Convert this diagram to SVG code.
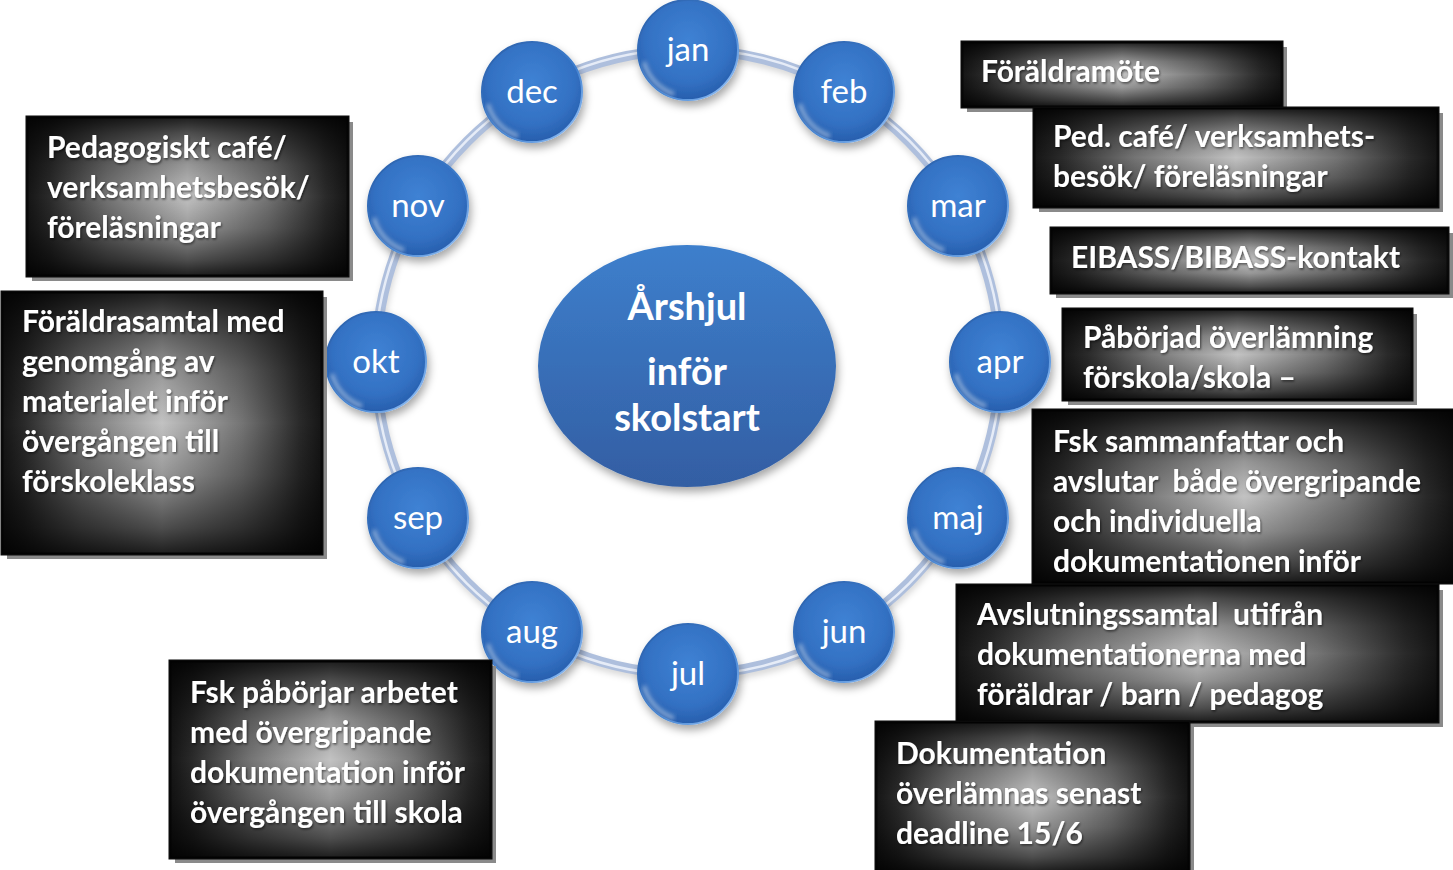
<svg xmlns="http://www.w3.org/2000/svg" width="1453" height="870" viewBox="0 0 1453 870">
<defs>
  <linearGradient id="boxh" x1="0" y1="0" x2="1" y2="0">
    <stop offset="0" stop-color="#151515"/>
    <stop offset="0.07" stop-color="#2a2a2a"/>
    <stop offset="0.25" stop-color="#747474"/>
    <stop offset="0.5" stop-color="#c2c2c2"/>
    <stop offset="0.75" stop-color="#747474"/>
    <stop offset="0.93" stop-color="#2a2a2a"/>
    <stop offset="1" stop-color="#151515"/>
  </linearGradient>
  <linearGradient id="boxv" x1="0" y1="0" x2="0" y2="1">
    <stop offset="0" stop-color="#000" stop-opacity="0.85"/>
    <stop offset="0.1" stop-color="#000" stop-opacity="0.6"/>
    <stop offset="0.3" stop-color="#000" stop-opacity="0.22"/>
    <stop offset="0.5" stop-color="#000" stop-opacity="0"/>
    <stop offset="0.7" stop-color="#000" stop-opacity="0.22"/>
    <stop offset="0.9" stop-color="#000" stop-opacity="0.6"/>
    <stop offset="1" stop-color="#000" stop-opacity="0.85"/>
  </linearGradient>
  <radialGradient id="sphere" cx="0.5" cy="0.4" r="0.7">
    <stop offset="0" stop-color="#3f82d4"/>
    <stop offset="0.6" stop-color="#3371c3"/>
    <stop offset="0.9" stop-color="#255ba9"/>
    <stop offset="1" stop-color="#1f4f96"/>
  </radialGradient>
  <linearGradient id="rim" x1="0" y1="0" x2="1" y2="1">
    <stop offset="0" stop-color="#2a5ea8"/>
    <stop offset="0.6" stop-color="#3e7fcf"/>
    <stop offset="1" stop-color="#a8d0ff"/>
  </linearGradient>
  <linearGradient id="ellg" x1="0" y1="0" x2="0" y2="1">
    <stop offset="0" stop-color="#3d7fcc"/>
    <stop offset="1" stop-color="#335ea3"/>
  </linearGradient>
  <filter id="sh" x="-30%" y="-30%" width="160%" height="160%">
    <feDropShadow dx="2" dy="5" stdDeviation="4" flood-color="#000" flood-opacity="0.35"/>
  </filter>
  <filter id="ts" x="-5%" y="-20%" width="110%" height="140%">
    <feDropShadow dx="1" dy="1.5" stdDeviation="1" flood-color="#000" flood-opacity="0.55"/>
  </filter>
  <filter id="blur3"><feGaussianBlur stdDeviation="3"/></filter>
  <filter id="blur2"><feGaussianBlur stdDeviation="2"/></filter>
  <symbol id="month" overflow="visible">
    <circle r="50" fill="url(#sphere)" stroke="url(#rim)" stroke-width="2" filter="url(#sh)"/>
    <path d="M -44 12 A 46 46 0 0 0 -14 44" fill="none" stroke="#fff" stroke-width="4" stroke-opacity="0.45" filter="url(#blur2)"/>
  </symbol>
  <style>
    .box{fill:url(#boxh);stroke:#0a0a0a;stroke-width:3}
    .boxo{fill:url(#boxv)}
    .bsh{fill:#8a8a8a}
    .bt{font-family:Lato,"Open Sans","DejaVu Sans",sans-serif;font-weight:700;font-size:30px;fill:#fff;filter:url(#ts)}
    .mt{font-family:Lato,"Open Sans","DejaVu Sans",sans-serif;font-size:33px;fill:#fff;text-anchor:middle}
    .ct{font-family:Lato,"Open Sans","DejaVu Sans",sans-serif;font-weight:700;font-size:38px;fill:#fff;text-anchor:middle}
  </style>
</defs>
<rect width="1453" height="870" fill="#fff"/>

<g id="connectors">
  <circle cx="688" cy="362" r="312" fill="none" stroke="#000" stroke-opacity="0.15" stroke-width="10" transform="translate(1,4)" filter="url(#blur3)"/>
  <circle cx="688" cy="362" r="312" fill="none" stroke="#aebfdd" stroke-width="10"/>
  <circle cx="688" cy="362" r="313" fill="none" stroke="#e6ecf7" stroke-width="2.5"/>
</g>

<g id="center">
  <ellipse cx="687" cy="366" rx="149" ry="121" fill="url(#ellg)" filter="url(#sh)"/>
  <text class="ct" x="687" y="320">Årshjul</text>
  <text class="ct" x="687" y="385">inför</text>
  <text class="ct" x="687" y="431">skolstart</text>
</g>

<g id="months">
  <g id="m-jan" transform="translate(688,50)"><use href="#month"/><text class="mt" y="11">jan</text></g>
  <g id="m-feb" transform="translate(844,92)"><use href="#month"/><text class="mt" y="11">feb</text></g>
  <g id="m-mar" transform="translate(958,206)"><use href="#month"/><text class="mt" y="11">mar</text></g>
  <g id="m-apr" transform="translate(1000,362)"><use href="#month"/><text class="mt" y="11">apr</text></g>
  <g id="m-maj" transform="translate(958,518)"><use href="#month"/><text class="mt" y="11">maj</text></g>
  <g id="m-jun" transform="translate(844,632)"><use href="#month"/><text class="mt" y="11">jun</text></g>
  <g id="m-jul" transform="translate(688,674)"><use href="#month"/><text class="mt" y="11">jul</text></g>
  <g id="m-aug" transform="translate(532,632)"><use href="#month"/><text class="mt" y="11">aug</text></g>
  <g id="m-sep" transform="translate(418,518)"><use href="#month"/><text class="mt" y="11">sep</text></g>
  <g id="m-okt" transform="translate(376,362)"><use href="#month"/><text class="mt" y="11">okt</text></g>
  <g id="m-nov" transform="translate(418,206)"><use href="#month"/><text class="mt" y="11">nov</text></g>
  <g id="m-dec" transform="translate(532,92)"><use href="#month"/><text class="mt" y="11">dec</text></g>
</g>

<g id="box-foraldramote">
  <rect class="bsh" x="967" y="47" width="320" height="65"/>
  <rect class="box" x="962" y="42" width="320" height="65"/>
  <rect class="boxo" x="962" y="42" width="320" height="65"/>
  <text class="bt" x="981" y="82">Föräldramöte</text>
</g>
<g id="box-pedcafe-r">
  <rect class="bsh" x="1039" y="113" width="404" height="99"/>
  <rect class="box" x="1034" y="108" width="404" height="99"/>
  <rect class="boxo" x="1034" y="108" width="404" height="99"/>
  <text class="bt" x="1053" y="147">Ped. café/ verksamhets-</text>
  <text class="bt" x="1053" y="187">besök/ föreläsningar</text>
</g>
<g id="box-eibass">
  <rect class="bsh" x="1056" y="233" width="397" height="65"/>
  <rect class="box" x="1051" y="228" width="397" height="65"/>
  <rect class="boxo" x="1051" y="228" width="397" height="65"/>
  <text class="bt" x="1071" y="268">EIBASS/BIBASS-kontakt</text>
</g>
<g id="box-paborjad">
  <rect class="bsh" x="1068" y="314" width="349" height="91"/>
  <rect class="box" x="1063" y="309" width="349" height="91"/>
  <rect class="boxo" x="1063" y="309" width="349" height="91"/>
  <text class="bt" x="1083" y="348">Påbörjad överlämning</text>
  <text class="bt" x="1083" y="388">förskola/skola –</text>
</g>
<g id="box-fsk-samman">
  <rect class="box" x="1033" y="410" width="422" height="173"/>
  <rect class="boxo" x="1033" y="410" width="422" height="173"/>
  <text class="bt" x="1053" y="452">Fsk sammanfattar och</text>
  <text class="bt" x="1053" y="492" xml:space="preserve">avslutar  både övergripande</text>
  <text class="bt" x="1053" y="532">och individuella</text>
  <text class="bt" x="1053" y="572">dokumentationen inför</text>
</g>
<g id="box-avslutning">
  <rect class="bsh" x="962" y="590" width="481" height="137"/>
  <rect class="box" x="957" y="585" width="481" height="137"/>
  <rect class="boxo" x="957" y="585" width="481" height="137"/>
  <text class="bt" x="977" y="625" xml:space="preserve">Avslutningssamtal  utifrån</text>
  <text class="bt" x="977" y="665">dokumentationerna med</text>
  <text class="bt" x="977" y="705">föräldrar / barn / pedagog</text>
</g>
<g id="box-dokumentation">
  <rect class="bsh" x="881" y="727" width="313" height="148"/>
  <rect class="box" x="876" y="722" width="313" height="150"/>
  <rect class="boxo" x="876" y="722" width="313" height="150"/>
  <text class="bt" x="896" y="764">Dokumentation</text>
  <text class="bt" x="896" y="804">överlämnas senast</text>
  <text class="bt" x="896" y="844">deadline 15/6</text>
</g>
<g id="box-pedcafe-l">
  <rect class="bsh" x="32" y="122" width="321" height="159"/>
  <rect class="box" x="27" y="117" width="321" height="159"/>
  <rect class="boxo" x="27" y="117" width="321" height="159"/>
  <text class="bt" x="47" y="158">Pedagogiskt café/</text>
  <text class="bt" x="47" y="198">verksamhetsbesök/</text>
  <text class="bt" x="47" y="238">föreläsningar</text>
</g>
<g id="box-foraldrasamtal">
  <rect class="bsh" x="7" y="297" width="320" height="262"/>
  <rect class="box" x="2" y="292" width="320" height="262"/>
  <rect class="boxo" x="2" y="292" width="320" height="262"/>
  <text class="bt" x="22" y="332">Föräldrasamtal med</text>
  <text class="bt" x="22" y="372">genomgång av</text>
  <text class="bt" x="22" y="412">materialet inför</text>
  <text class="bt" x="22" y="452">övergången till</text>
  <text class="bt" x="22" y="492">förskoleklass</text>
</g>
<g id="box-fsk-paborjar">
  <rect class="bsh" x="175" y="666" width="321" height="197"/>
  <rect class="box" x="170" y="661" width="321" height="197"/>
  <rect class="boxo" x="170" y="661" width="321" height="197"/>
  <text class="bt" x="190" y="703">Fsk påbörjar arbetet</text>
  <text class="bt" x="190" y="743">med övergripande</text>
  <text class="bt" x="190" y="783">dokumentation inför</text>
  <text class="bt" x="190" y="823">övergången till skola</text>
</g>
</svg>
